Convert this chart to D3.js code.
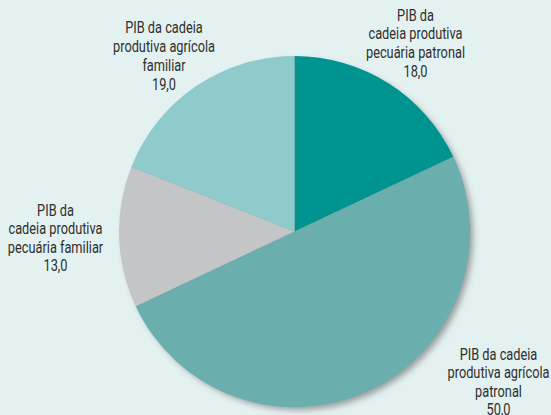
<!DOCTYPE html>
<html>
<head>
<meta charset="utf-8">
<script src="https://cdn.jsdelivr.net/npm/d3@7"></script>
<style>
  html, body { margin: 0; padding: 0; background: #e3f1f1; }
  svg { display: block; }
  text { font-family: "Roboto", "Liberation Sans", sans-serif; fill: #2f2f2f; }
</style>
</head>
<body>
<svg id="chart" width="551" height="415"></svg>
<script>
// Composition of GDP by production chain (%)
const categories = [
  ["PIB da", "cadeia produtiva", "pecuária patronal"],
  ["PIB da cadeia", "produtiva agrícola", "patronal"],
  ["PIB da", "cadeia produtiva", "pecuária familiar"],
  ["PIB da cadeia", "produtiva agrícola", "familiar"]
];
const values = [18.0, 50.0, 13.0, 19.0];
const colors = ["#009490", "#6aaead", "#c4c5c7", "#8fcbca"];

const W = 551, H = 415;
const cx = 294.5, cy = 231.5, R = 175.5;

const svg = d3.select("#chart");
svg.append("rect").attr("width", W).attr("height", H).attr("fill", "#e3f1f1");

const defs = svg.append("defs");
const f = defs.append("filter").attr("id", "shadow")
  .attr("x", "-10%").attr("y", "-10%").attr("width", "125%").attr("height", "125%");
f.append("feDropShadow").attr("dx", 4).attr("dy", 4).attr("stdDeviation", 3)
  .attr("flood-color", "#555").attr("flood-opacity", 0.55);

const pie = d3.pie().sort(null).value(d => d)(values);
const arc = d3.arc().innerRadius(0).outerRadius(R);

const g = svg.append("g").attr("transform", `translate(${cx},${cy})`);
// shadow disc underneath the slices
g.append("circle").attr("r", R - 1).attr("fill", "#999").attr("filter", "url(#shadow)");
g.selectAll("path.slice").data(pie).join("path")
  .attr("class", "slice")
  .attr("d", arc)
  .attr("fill", (d, i) => colors[i]);

// label anchors: centre x, first-line baseline, line spacing
const labelPos = [
  { x: 415.5, y: 20.8, lh: 18.7 },
  { x: 498.5, y: 360, lh: 18.3 },
  { x: 55.5, y: 216, lh: 18.3 },
  { x: 164, y: 33.3, lh: 18.9 }
];

const fmt = v => v.toFixed(1).replace(".", ",");
const fontSize = 16.8;
const targetWidth = 102; // width of the "produtiva agrícola" line

// measure to get horizontal condensing factor
const probe = svg.append("text").attr("font-size", fontSize).text("produtiva agrícola");
const sx = targetWidth / probe.node().getComputedTextLength();
probe.remove();

categories.forEach((lines, i) => {
  const p = labelPos[i];
  const t = svg.append("text")
    .attr("font-size", fontSize)
    .attr("text-anchor", "middle")
    .attr("transform", `translate(${p.x},${p.y}) scale(${sx},1)`);
  lines.concat([fmt(values[i])]).forEach((s, k) => {
    t.append("tspan").attr("x", 0).attr("y", k * p.lh).text(s);
  });
});
</script>
</body>
</html>
